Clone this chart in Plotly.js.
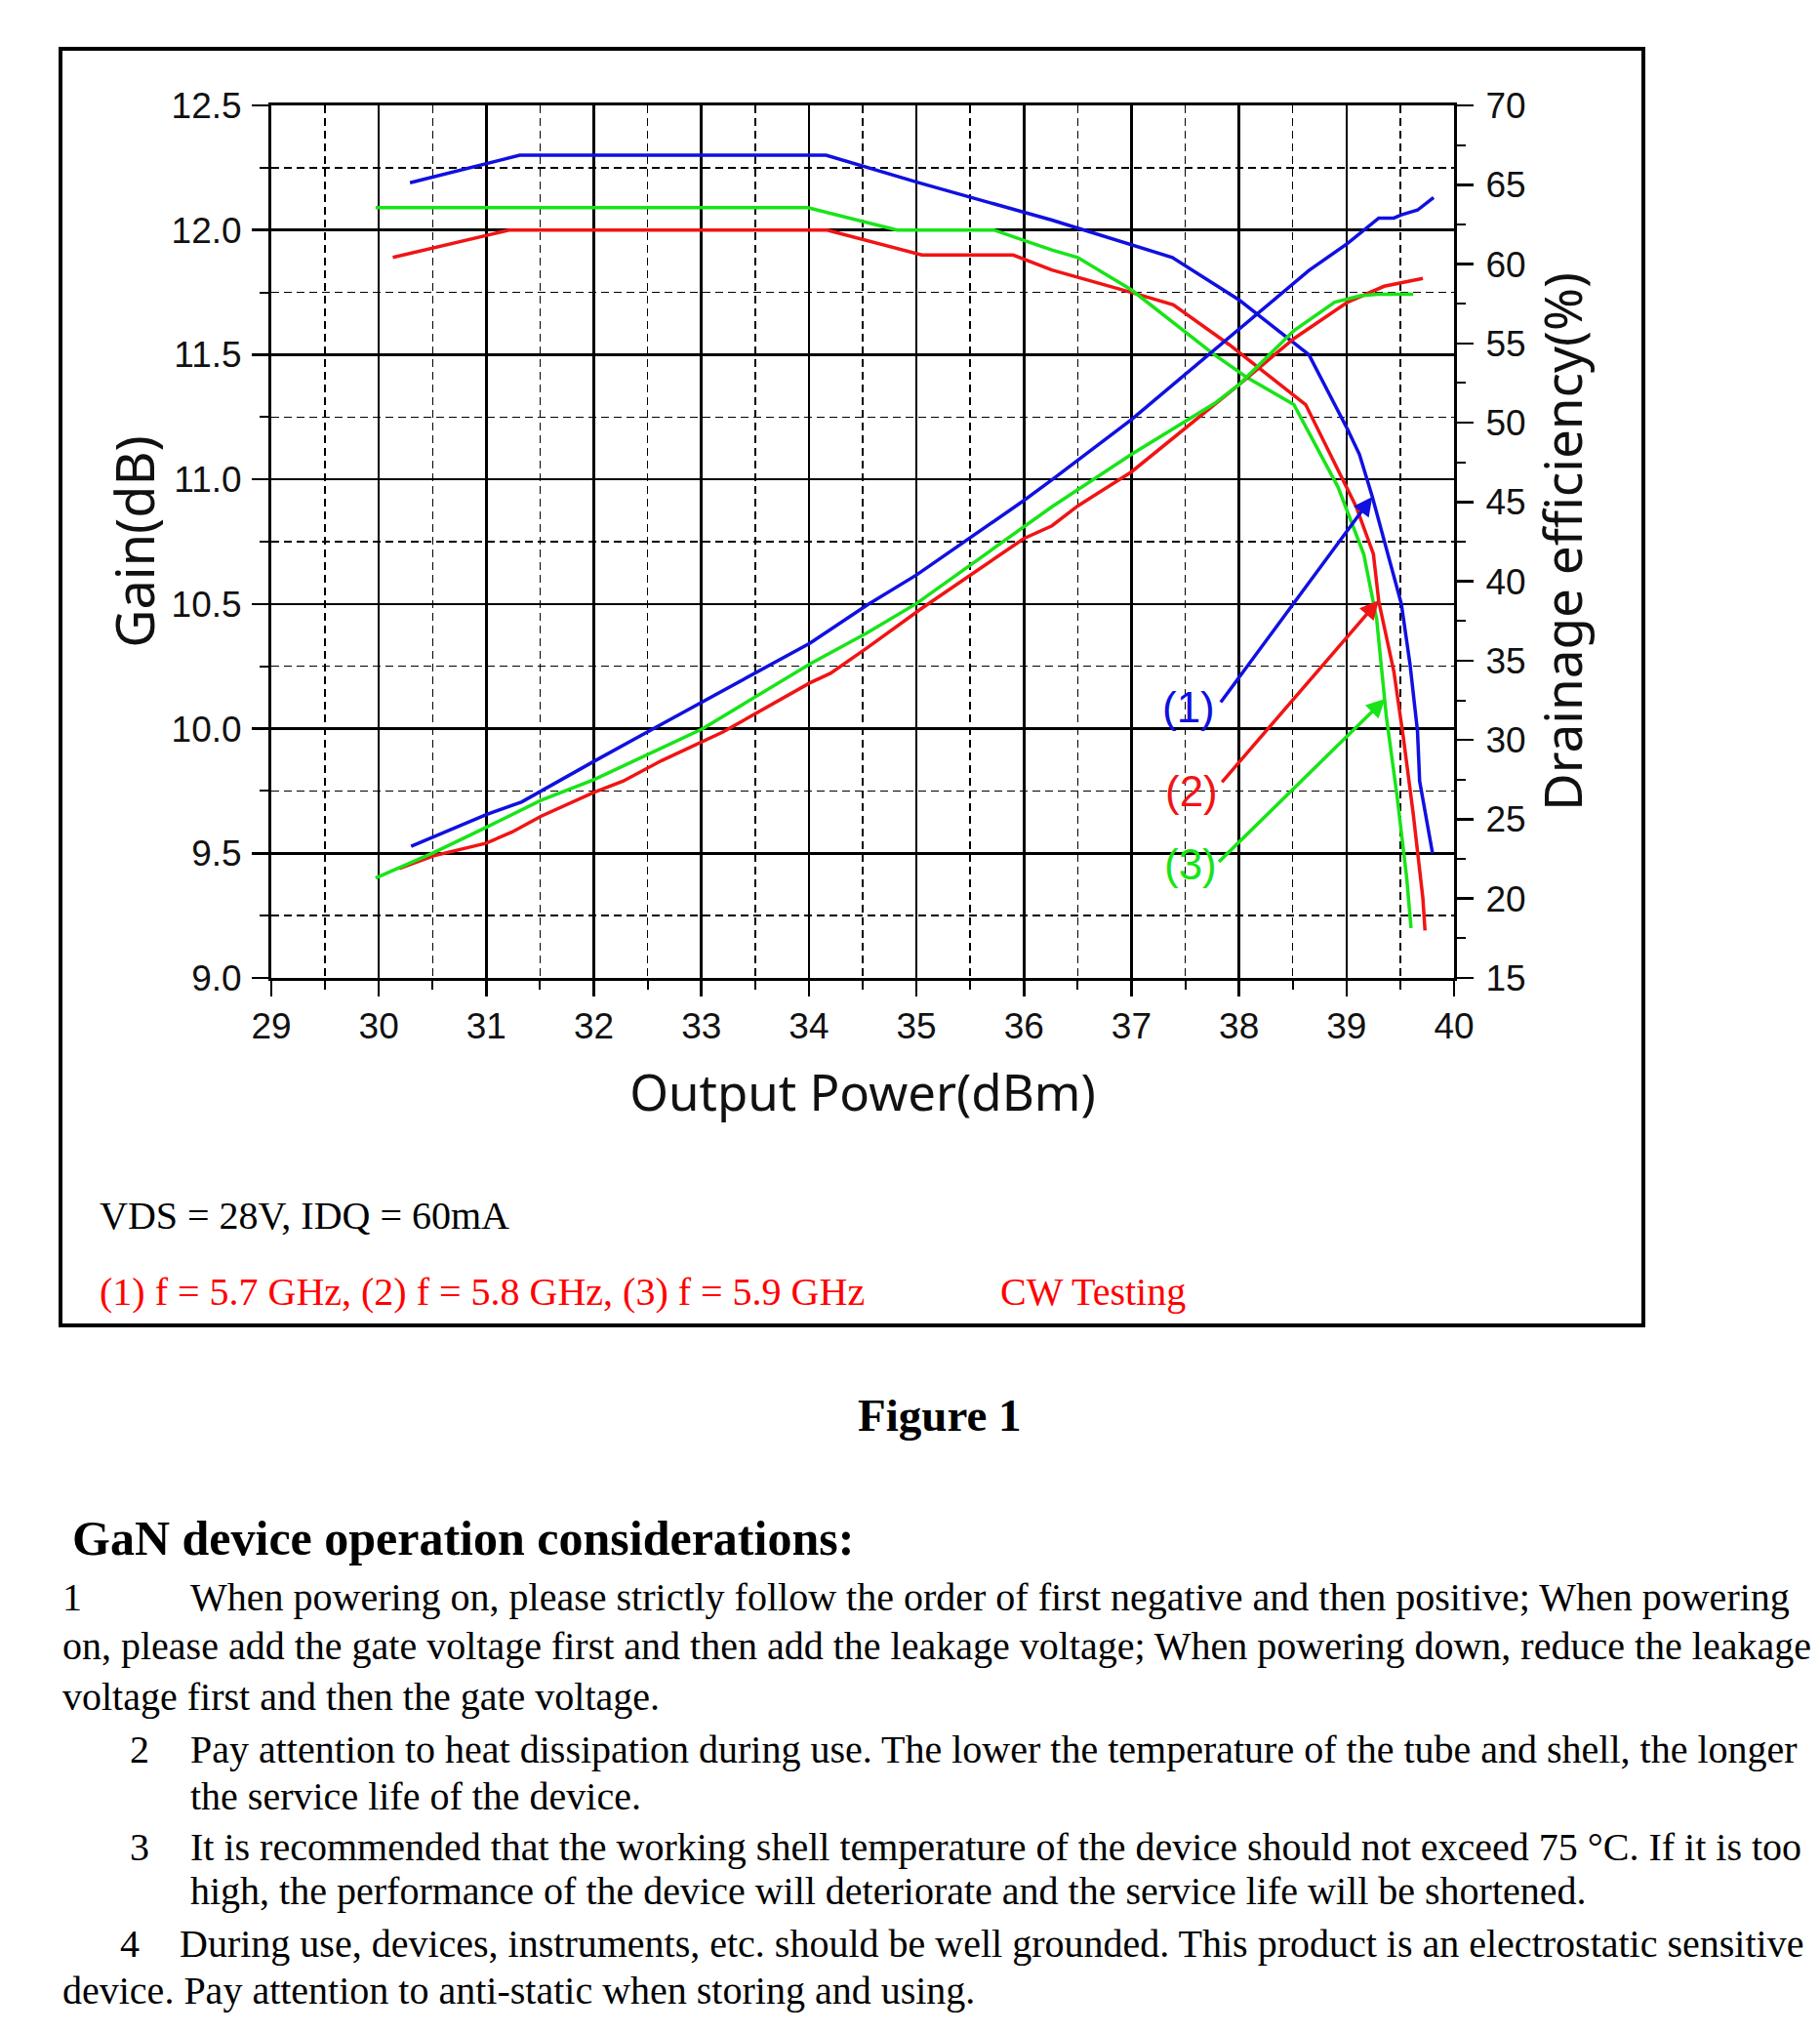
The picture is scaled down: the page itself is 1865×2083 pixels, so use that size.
<!DOCTYPE html>
<html>
<head>
<meta charset="utf-8">
<script src="https://cdn.plot.ly/plotly-3.0.1.min.js"></script>
<style>
  html, body { margin: 0; padding: 0; background: #ffffff; }
  #chart { width: 1865px; height: 2083px; }
</style>
</head>
<body>
<div id="chart"></div>
<script>
// ---------- data ----------
// Gain (left axis, dB)
const gainX_57 = [30.29, 31.31, 34.16, 35.02, 36.26, 37.0, 37.38, 38.0, 38.65, 39.01, 39.12, 39.24, 39.44, 39.51, 39.59, 39.66, 39.68, 39.80];
const gainY_57 = [12.19, 12.30, 12.30, 12.19, 12.04, 11.94, 11.89, 11.72, 11.50, 11.20, 11.10, 10.93, 10.61, 10.50, 10.26, 9.99, 9.79, 9.50];

const gainX_58 = [30.13, 31.21, 34.17, 35.05, 35.90, 36.26, 37.0, 37.39, 37.91, 38.62, 39.09, 39.25, 39.30, 39.44, 39.53, 39.62, 39.71, 39.73];
const gainY_58 = [11.89, 12.00, 12.00, 11.90, 11.90, 11.84, 11.75, 11.70, 11.54, 11.30, 10.89, 10.70, 10.51, 10.23, 9.96, 9.66, 9.32, 9.19];

const gainX_59 = [29.97, 33.99, 34.82, 35.72, 36.26, 36.50, 37.0, 37.77, 38.07, 38.51, 38.92, 39.16, 39.28, 39.37, 39.47, 39.56, 39.60];
const gainY_59 = [12.09, 12.09, 12.00, 12.00, 11.92, 11.89, 11.76, 11.50, 11.41, 11.30, 10.97, 10.70, 10.44, 10.05, 9.73, 9.40, 9.20];

// Drain efficiency (right axis, %)
const effX_57 = [30.30, 31.0, 31.33, 31.51, 32.0, 32.63, 33.01, 34.01, 34.54, 35.0, 36.0, 36.26, 37.0, 38.0, 38.65, 39.01, 39.18, 39.30, 39.44, 39.51, 39.66, 39.68, 39.81];
const effY_57 = [23.3, 25.3, 26.1, 26.8, 28.65, 31.0, 32.4, 36.1, 38.5, 40.4, 45.1, 46.4, 50.2, 55.9, 59.6, 61.3, 62.2, 62.9, 62.9, 63.1, 63.4, 63.5, 64.2];

const effX_58 = [30.19, 30.51, 31.0, 31.24, 31.51, 32.0, 32.27, 32.63, 33.2, 34.01, 34.20, 34.54, 35.05, 36.0, 36.26, 36.50, 37.0, 38.0, 38.51, 39.01, 39.35, 39.51, 39.71];
const effY_58 = [21.9, 22.7, 23.5, 24.2, 25.2, 26.7, 27.4, 28.7, 30.5, 33.6, 34.2, 35.8, 38.3, 42.7, 43.5, 44.75, 46.9, 52.4, 55.3, 57.6, 58.6, 58.8, 59.1];

const effX_59 = [29.97, 30.51, 31.0, 31.51, 32.0, 32.63, 33.01, 34.01, 34.54, 35.0, 36.0, 36.26, 37.0, 37.77, 38.0, 38.51, 38.89, 39.13, 39.29, 39.62];
const effY_59 = [21.3, 22.9, 24.5, 26.2, 27.5, 29.5, 30.7, 34.8, 36.75, 38.6, 43.4, 44.7, 48.0, 51.2, 52.4, 55.8, 57.6, 58.0, 58.1, 58.1];

// Curve labels and arrows
const curveLabels = ['(1)', '(2)', '(3)'];
const labelPosX = [37.53, 37.56, 37.55];
const labelPosY = [10.085, 9.75, 9.455];
const arrowTailX = [37.82, 37.83, 37.80];
const arrowTailY = [10.10, 9.78, 9.46];
const arrowHeadX = [39.24, 39.30, 39.36];
const arrowHeadY = [10.93, 10.515, 10.12];

// Text
const condText = 'VDS = 28V, IDQ = 60mA';
const freqText = '(1) f = 5.7 GHz, (2) f = 5.8 GHz, (3) f = 5.9 GHz';
const cwText = 'CW Testing';
const figCaption = 'Figure 1';
const heading = 'GaN device operation considerations:';
const bodyLines = [
  ['1', 'When powering on, please strictly follow the order of first negative and then positive; When powering'],
  ['', 'on, please add the gate voltage first and then add the leakage voltage; When powering down, reduce the leakage'],
  ['', 'voltage first and then the gate voltage.'],
  ['2', 'Pay attention to heat dissipation during use. The lower the temperature of the tube and shell, the longer'],
  ['', 'the service life of the device.'],
  ['3', 'It is recommended that the working shell temperature of the device should not exceed 75 \u00B0C. If it is too'],
  ['', 'high, the performance of the device will deteriorate and the service life will be shortened.'],
  ['4', 'During use, devices, instruments, etc. should be well grounded. This product is an electrostatic sensitive'],
  ['', 'device. Pay attention to anti-static when storing and using.']
];

// ---------- styling / layout ----------
const W = 1865, H = 2083;
const PL = 278, PR = 1490, PT = 108, PB = 1002;
const PX = px => (px - PL) / (PR - PL);
const PY = py => (PB - py) / (PB - PT);

const BLUE = '#1010e0', RED = '#f01414', GREEN = '#18e418';
const sansTick = 'Liberation Sans, Arial, sans-serif';
const sansTitle = 'Noto Sans, Open Sans, sans-serif';
const serif = 'Liberation Serif, Times New Roman, serif';

function line(x, y, color, yaxis) {
  return { x: x, y: y, type: 'scatter', mode: 'lines', yaxis: yaxis,
           line: { color: color, width: 3.5 }, showlegend: false, hoverinfo: 'skip' };
}

const traces = [
  line(gainX_57, gainY_57, BLUE, 'y'),
  line(gainX_58, gainY_58, RED, 'y'),
  line(gainX_59, gainY_59, GREEN, 'y'),
  line(effX_57, effY_57, BLUE, 'y2'),
  line(effX_58, effY_58, RED, 'y2'),
  line(effX_59, effY_59, GREEN, 'y2')
];

const colors = [BLUE, RED, GREEN];
const annotations = [];
for (let i = 0; i < curveLabels.length; i++) {
  annotations.push({ x: arrowHeadX[i], y: arrowHeadY[i], xref: 'x', yref: 'y',
    ax: arrowTailX[i], ay: arrowTailY[i], axref: 'x', ayref: 'y',
    text: '', showarrow: true, arrowhead: 2, arrowsize: 1.1, arrowwidth: 3.5, arrowcolor: colors[i] });
  annotations.push({ x: labelPosX[i], y: labelPosY[i], xref: 'x', yref: 'y',
    text: curveLabels[i], showarrow: false, xanchor: 'center', yanchor: 'middle',
    font: { family: sansTick, size: 44, color: colors[i] } });
}

function txt(text, px, py, opts) {
  opts = opts || {};
  return Object.assign({ x: PX(px), y: PY(py), xref: 'paper', yref: 'paper', text: text,
    showarrow: false, xanchor: 'left', yanchor: 'middle',
    font: { family: serif, size: 40, color: '#000' } }, opts);
}

annotations.push(txt(condText, 100, 1245));
annotations.push(txt(freqText, 100, 1323, { font: { family: serif, size: 40, color: '#ff0000' } }));
annotations.push(txt(cwText, 1023, 1323, { font: { family: serif, size: 40, color: '#ff0000' } }));
annotations.push(txt('<b>' + figCaption + '</b>', 963, 1450, { xanchor: 'center', font: { family: serif, size: 47, color: '#000' } }));
annotations.push(txt('<b>' + heading + '</b>', 72, 1576, { font: { family: serif, size: 50, color: '#000' } }));

const lineY = [1636, 1686, 1738, 1792, 1840, 1892, 1938, 1992, 2040];
const numX = { '1': 62, '2': 131, '3': 131, '4': 121 };
const textX = [193, 62, 62, 193, 193, 193, 193, 182, 62];
for (let i = 0; i < bodyLines.length; i++) {
  const num = bodyLines[i][0];
  if (num) annotations.push(txt(num, numX[num], lineY[i]));
  annotations.push(txt(bodyLines[i][1], textX[i], lineY[i]));
}

const layout = {
  width: W, height: H,
  margin: { l: PL, r: W - PR, t: PT, b: H - PB, pad: 0 },
  paper_bgcolor: '#ffffff', plot_bgcolor: '#ffffff',
  showlegend: false,
  xaxis: {
    range: [29, 40], tick0: 29, dtick: 1, zeroline: false,
    showgrid: true, gridcolor: '#000', gridwidth: 2.5,
    showline: true, linecolor: '#000', linewidth: 3, mirror: true,
    ticks: 'outside', ticklen: 16, tickwidth: 2.5, tickcolor: '#000',
    ticklabelstandoff: -1,
    tickfont: { family: sansTick, size: 37, color: '#111' },
    minor: { tick0: 29, dtick: 0.5, showgrid: true, gridcolor: '#000', gridwidth: 1.5,
             griddash: '8px,5px', ticks: 'outside', ticklen: 9, tickwidth: 2, tickcolor: '#000' },
    title: { text: 'Output Power(dBm)', font: { family: sansTitle, size: 51, color: '#111' }, standoff: 31 },
    automargin: false
  },
  yaxis: {
    range: [9, 12.5], tick0: 9, dtick: 0.5, tickformat: '.1f', zeroline: false,
    showgrid: true, gridcolor: '#000', gridwidth: 2.5,
    showline: true, linecolor: '#000', linewidth: 3, mirror: true,
    ticks: 'outside', ticklen: 17, tickwidth: 2.5, tickcolor: '#000',
    ticklabelstandoff: 3,
    tickfont: { family: sansTick, size: 37, color: '#111' },
    minor: { tick0: 9, dtick: 0.25, showgrid: true, gridcolor: '#000', gridwidth: 1.5,
             griddash: '8px,5px', ticks: 'outside', ticklen: 9, tickwidth: 2, tickcolor: '#000' },
    title: { text: 'Gain(dB)', font: { family: sansTitle, size: 54, color: '#111' }, standoff: 0 },
    automargin: false
  },
  yaxis2: {
    overlaying: 'y', side: 'right', anchor: 'x',
    range: [15, 70], tick0: 15, dtick: 5, zeroline: false, showgrid: false,
    showline: true, linecolor: '#000', linewidth: 3,
    ticks: 'outside', ticklen: 17, tickwidth: 2.5, tickcolor: '#000',
    ticklabelstandoff: 5,
    tickfont: { family: sansTick, size: 37, color: '#111' },
    minor: { tick0: 15, dtick: 2.5, showgrid: false, ticks: 'outside', ticklen: 9, tickwidth: 2, tickcolor: '#000' },
    title: { text: 'Drainage efficiency(%)', font: { family: sansTitle, size: 53, color: '#111' }, standoff: 14 },
    automargin: false
  },
  shapes: [
    { type: 'rect', xref: 'paper', yref: 'paper', x0: PX(62), x1: PX(1684), y0: PY(1358), y1: PY(50),
      line: { color: '#000', width: 4 }, fillcolor: 'rgba(0,0,0,0)', layer: 'above' }
  ],
  annotations: annotations
};

Plotly.newPlot('chart', traces, layout, { staticPlot: true, displayModeBar: false });
</script>
</body>
</html>
